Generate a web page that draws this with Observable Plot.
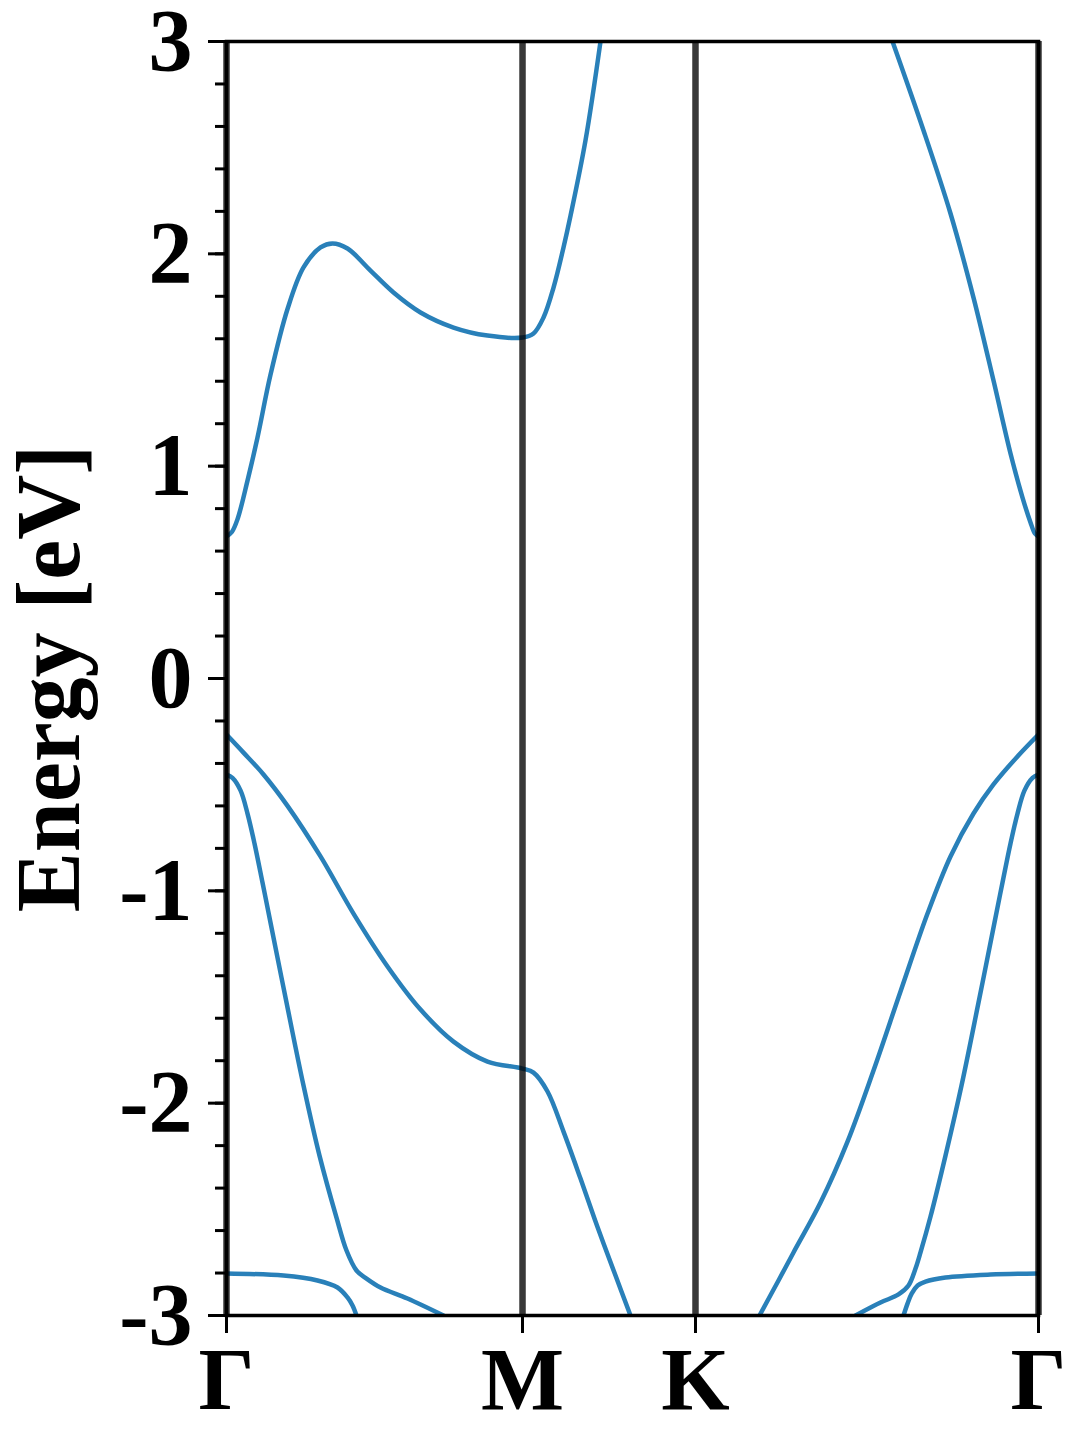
<!DOCTYPE html>
<html>
<head>
<meta charset="utf-8">
<script src="https://cdn.jsdelivr.net/npm/d3@7"></script>
<script src="https://cdn.jsdelivr.net/npm/@observablehq/plot@0.6"></script>
<style>
  html, body { margin: 0; padding: 0; background: #ffffff; }
  #chart svg { display: block; }
</style>
</head>
<body>
<div id="chart"></div>
<script>
// High-symmetry path (k in units of |ΓM|)
const kPoints = [0, 0.996, 1.578, 2.7321];
const kLabels = ["Γ", "M", "K", "Γ"];
const yMajorTicks = [-3, -2, -1, 0, 1, 2, 3];
const yMinorTicks = d3.range(-15, 16).map(i => i / 5);

// Conduction band, Γ → M → (leaves top of window)
const cbA_k = [0, 0.018, 0.037, 0.0707, 0.1043, 0.148, 0.2053, 0.2591, 0.3163, 0.3567, 0.4071, 0.4845, 0.5619, 0.6528, 0.7638, 0.8782, 0.996, 1.033, 1.0666, 1.1003, 1.1339, 1.1575, 1.2079, 1.2584];
const cbA_E = [0.669, 0.690, 0.750, 0.932, 1.135, 1.430, 1.740, 1.936, 2.030, 2.049, 2.025, 1.921, 1.818, 1.724, 1.653, 1.615, 1.606, 1.625, 1.700, 1.841, 2.030, 2.179, 2.534, 3.0];
// Conduction band, K → Γ
const cbB_k = [2.2409, 2.3452, 2.4360, 2.5134, 2.5807, 2.6379, 2.6783, 2.7052, 2.7200, 2.7321];
const cbB_E = [3.0, 2.581, 2.190, 1.794, 1.403, 1.060, 0.852, 0.735, 0.683, 0.669];

// Upper valence band, Γ → M → (leaves bottom)
const vb1A_k = [0, 0.0572, 0.1245, 0.2053, 0.3163, 0.4273, 0.5417, 0.6528, 0.7638, 0.8782, 0.996, 1.033, 1.0801, 1.1339, 1.1911, 1.2483, 1.3089, 1.3593];
const vb1A_E = [-0.264, -0.349, -0.452, -0.600, -0.838, -1.107, -1.356, -1.559, -1.710, -1.804, -1.837, -1.856, -1.945, -2.134, -2.355, -2.583, -2.812, -3.0];
// Upper valence band, K → Γ
const vb1B_k = [1.7934, 1.8573, 1.9078, 1.9986, 2.0895, 2.1770, 2.2678, 2.3587, 2.4360, 2.5134, 2.5807, 2.6615, 2.7321];
const vb1B_E = [-3.0, -2.835, -2.703, -2.468, -2.181, -1.846, -1.474, -1.107, -0.838, -0.636, -0.499, -0.367, -0.264];

// Second valence band near Γ (left)
const vb2A_k = [0, 0.020, 0.0471, 0.0707, 0.0942, 0.1211, 0.1480, 0.2019, 0.2591, 0.3129, 0.3701, 0.4038, 0.4374, 0.4711, 0.5182, 0.609, 0.7301];
const vb2A_E = [-0.452, -0.468, -0.527, -0.636, -0.777, -0.961, -1.149, -1.526, -1.917, -2.247, -2.539, -2.694, -2.788, -2.826, -2.868, -2.920, -3.0];
// Second valence band near Γ (right)
const vb2B_k = [2.1164, 2.2005, 2.2611, 2.2947, 2.3183, 2.3351, 2.3688, 2.4192, 2.4731, 2.5303, 2.5841, 2.6110, 2.6379, 2.6615, 2.6851, 2.7121, 2.7321];
const vb2B_E = [-3.0, -2.939, -2.901, -2.859, -2.779, -2.703, -2.534, -2.247, -1.917, -1.526, -1.149, -0.961, -0.777, -0.636, -0.527, -0.468, -0.452];

// Flat band near -2.8 eV (left and right of Γ)
const flatA_k = [0, 0.1918, 0.3062, 0.3735, 0.4071, 0.4240, 0.4374];
const flatA_E = [-2.802, -2.812, -2.835, -2.868, -2.915, -2.953, -3.0];
const flatB_k = [2.2779, 2.2914, 2.3053, 2.3255, 2.3520, 2.4192, 2.5706, 2.7321];
const flatB_E = [-3.0, -2.944, -2.897, -2.859, -2.840, -2.821, -2.807, -2.802];

const segments = [
  ["cbA", cbA_k, cbA_E], ["cbB", cbB_k, cbB_E],
  ["vb1A", vb1A_k, vb1A_E], ["vb1B", vb1B_k, vb1B_E],
  ["vb2A", vb2A_k, vb2A_E], ["vb2B", vb2B_k, vb2B_E],
  ["flatA", flatA_k, flatA_E], ["flatB", flatB_k, flatB_E]
];
const bands = segments.flatMap(([name, ks, Es]) => ks.map((k, i) => ({seg: name, k, E: Es[i]})));

const labelOf = new Map(kPoints.map((k, i) => [k, kLabels[i]]));
const font = "'Liberation Serif', 'Times New Roman', serif";

const chart = Plot.plot({
  width: 1080,
  height: 1440,
  marginLeft: 226,
  marginRight: 42,
  marginTop: 41,
  marginBottom: 125,
  style: {fontFamily: font, fontWeight: "bold", background: "#ffffff", color: "#000000"},
  x: {domain: [0, 2.7321], range: [226, 1038]},
  y: {domain: [-3, 3]},
  marks: [
    Plot.line(bands, {x: "k", y: "E", z: "seg", stroke: "#2980b9", strokeWidth: 4.5, curve: "catmull-rom", clip: true}),
    Plot.ruleX(kPoints, {stroke: "#000000", strokeOpacity: 0.78, strokeWidth: 6.5}),
    Plot.frame({stroke: "#000000", strokeWidth: 3.5}),
    Plot.axisY(yMinorTicks, {tickSize: 11, strokeWidth: 3, text: null, label: null}),
    Plot.axisY(yMajorTicks, {tickSize: 18, tickPadding: 16, strokeWidth: 3, fontSize: 88, fontWeight: "bold", fontFamily: font, label: null, tickFormat: d => String(d)}),
    Plot.axisX(kPoints, {tickSize: 18, tickPadding: 13, strokeWidth: 3, fontSize: 88, fontWeight: "bold", fontFamily: font, label: null, tickFormat: d => labelOf.get(d)}),
    Plot.text(["Energy [eV]"], {frameAnchor: "left", textAnchor: "middle", lineAnchor: "middle", dx: -176, rotate: -90, fontSize: 90, fontWeight: "bold", fontFamily: font, fill: "#000000"})
  ]
});
document.getElementById("chart").appendChild(chart);
</script>
</body>
</html>
